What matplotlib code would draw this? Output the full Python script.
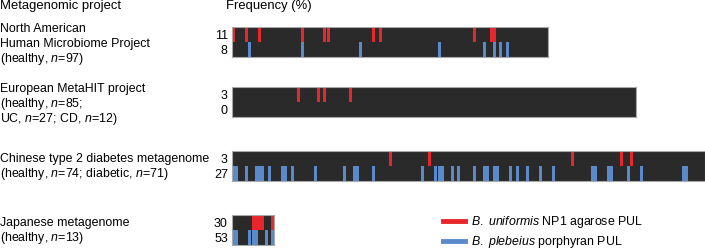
import matplotlib
matplotlib.use('Agg')
import matplotlib.pyplot as plt
from matplotlib.lines import Line2D

plt.rcParams['font.family'] = ['Liberation Sans', 'DejaVu Sans']
plt.rcParams['mathtext.fontset'] = 'custom'
plt.rcParams['mathtext.rm'] = 'Liberation Sans'
plt.rcParams['mathtext.it'] = 'Liberation Sans:italic'

# cohorts, sample counts and which samples carry each PUL
cohort_names = [
    ['North American', 'Human Microbiome Project', '(healthy, $\\it{n}$=97)'],
    ['European MetaHIT project', '(healthy, $\\it{n}$=85;', 'UC, $\\it{n}$=27; CD, $\\it{n}$=12)'],
    ['Chinese type 2 diabetes metagenome', '(healthy, $\\it{n}$=74; diabetic, $\\it{n}$=71)'],
    ['Japanese metagenome', '(healthy, $\\it{n}$=13)'],
]
cohort_sizes = [97, 124, 145, 13]

agarose_hits = [
    [0, 4, 8, 21, 28, 29, 43, 45, 74, 79, 80],
    [20, 26, 28, 36],
    [48, 60, 104, 119, 122],
    [6, 7, 8, 9, 12],
]
porphyran_hits = [
    [5, 21, 39, 63, 77, 80, 82, 84],
    [],
    [0, 1, 4, 7, 8, 9, 11, 15, 16, 18, 25, 34, 37, 38, 43, 58, 62, 63, 64, 67,
     69, 74, 77, 78, 80, 81, 85, 87, 90, 94, 98, 110, 111, 115, 116, 121, 125,
     138, 139],
    [0, 1, 5, 6, 7, 10, 12],
]
agarose_freq = ['11', '3', '3', '30']
porphyran_freq = ['8', '0', '27', '53']

RED = '#e8262b'
BLUE = '#5b8acb'
DARK = '#2a2a2a'

W, H = 705, 249
fig = plt.figure(figsize=(W / 100, H / 100), dpi=100)


def fx(px):
    return px / W


def fy(py):
    return 1 - py / H


bar_tops = [27, 87, 151, 215]
first_baselines = [32, 92, 162, 226]
line_step = 14.8
px_per_sample = 3.26
bar_h = 30

for i, n in enumerate(cohort_sizes):
    ax = fig.add_axes([fx(232), fy(bar_tops[i] + bar_h), n * px_per_sample / W, bar_h / H])
    ax.set_facecolor(DARK)
    ax.set_xlim(0, n)
    ax.set_ylim(0, 2)
    a = agarose_hits[i]
    p = porphyran_hits[i]
    if a:
        ax.bar([k + 0.5 for k in a], 1, bottom=1, width=0.92, color=RED, linewidth=0)
    if p:
        ax.bar([k + 0.5 for k in p], 1, bottom=0, width=0.92, color=BLUE, linewidth=0)
    ax.set_xticks([])
    ax.set_yticks([1.5, 0.5])
    ax.set_yticklabels([agarose_freq[i], porphyran_freq[i]], fontsize=9)
    ax.tick_params(axis='y', length=0, pad=3)
    for s in ax.spines.values():
        s.set_color('#a8a8a8')
        s.set_linewidth(0.8)

    for j, line in enumerate(cohort_names[i]):
        fig.text(fx(0), fy(first_baselines[i] + j * line_step), line, fontsize=8.9,
                 va='baseline', ha='left')

fig.text(fx(0), fy(9), 'Metagenomic project', fontsize=9.4, va='baseline', ha='left')
fig.text(fx(226), fy(9), 'Frequency (%)', fontsize=9.4, va='baseline', ha='left')

handles = [Line2D([], [], color=RED, lw=3.5), Line2D([], [], color=BLUE, lw=3.5)]
labels = ['$\\it{B.\\ uniformis}$ NP1 agarose PUL', '$\\it{B.\\ plebeius}$ porphyran PUL']
fig.legend(handles, labels, loc='center left', bbox_to_anchor=(fx(438), fy(232)),
           frameon=False, fontsize=8.9, handlelength=1.75, handletextpad=0.55,
           labelspacing=0.3, borderaxespad=0)

fig.savefig('out.png', dpi=100)
